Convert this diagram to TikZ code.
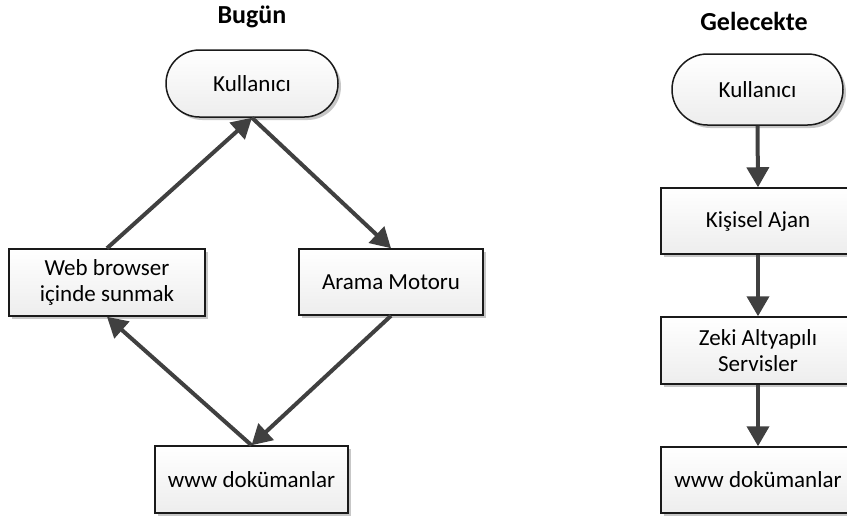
\documentclass[tikz,border=0pt]{standalone}
\usepackage{fontspec}
\setmainfont{Carlito}
\usetikzlibrary{arrows.meta,shadows,shapes.misc}
\definecolor{arrowgray}{HTML}{404040}
\definecolor{edgegray}{HTML}{1A1A1A}
\tikzset{
  box/.style={draw=edgegray, line width=1.5pt, rectangle, inner sep=0pt,
    top color=white, bottom color=black!7, align=center,
    font=\fontsize{23}{26}\selectfont,
    drop shadow={shadow xshift=3pt, shadow yshift=-3pt, fill=black!22, opacity=1}},
  terminal/.style={box, rounded rectangle},
  title/.style={font=\bfseries\fontsize{26}{30}\selectfont, inner sep=0pt},
  flow/.style={draw=arrowgray, line width=4pt,
    -{Triangle[width=22pt,length=20pt]}},
}
\begin{document}
\begin{tikzpicture}[x=1pt,y=-1pt]
  \useasboundingbox (0,0) rectangle (847,517);

  % Left: today
  \node[title] (t1) at (252,17) {Bugün};
  \node[terminal, minimum width=172pt, minimum height=67pt] (k1) at (252,83.5) {Kullanıcı};
  \node[box, minimum width=196pt, minimum height=67pt] (wb) at (107,282.5) {Web browser\\içinde sunmak};
  \node[box, minimum width=184pt, minimum height=66pt] (am) at (391,282) {Arama Motoru};
  \node[box, minimum width=193pt, minimum height=67pt] (w1) at (251.5,479.5) {www dokümanlar};

  \draw[flow] (k1.south) -- (am.north);
  \draw[flow] (am.south) -- (w1.north);
  \draw[flow] (w1.north) -- (wb.south);
  \draw[flow] (wb.north) -- (k1.south);

  % Right: in the future
  \node[title] (t2) at (754,21) {Gelecekte};
  \node[terminal, minimum width=171pt, minimum height=71pt] (k2) at (757.5,89.5) {Kullanıcı};
  \node[box, minimum width=194pt, minimum height=66pt] (ka) at (758,221) {Kişisel Ajan};
  \node[box, minimum width=194pt, minimum height=67pt] (za) at (758,350.5) {Zeki Altyapılı\\Servisler};
  \node[box, minimum width=194pt, minimum height=66pt] (w2) at (758,480) {www dokümanlar};

  \draw[flow] (k2.south) -- (ka.north);
  \draw[flow] (ka.south) -- (za.north);
  \draw[flow] (za.south) -- (w2.north);
\end{tikzpicture}
\end{document}
